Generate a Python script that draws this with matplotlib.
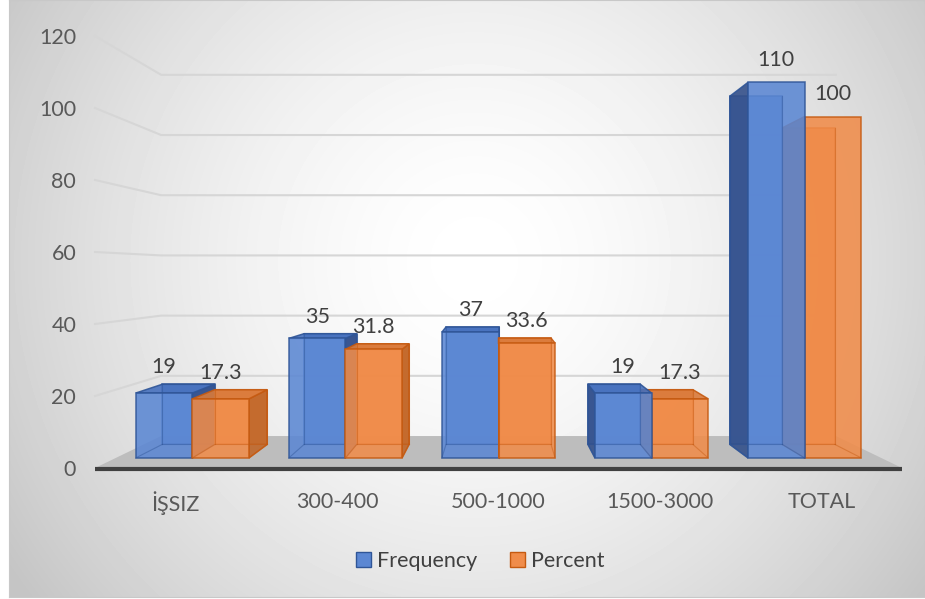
import numpy as np
import matplotlib.pyplot as plt
from matplotlib.patches import Polygon, Patch

categories = ['İŞSIZ', '300-400', '500-1000', '1500-3000', 'TOTAL']
frequency = [19, 35, 37, 19, 110]
percent = [17.3, 31.8, 33.6, 17.3, 100]

plt.rcParams['font.family'] = ['Lato', 'DejaVu Sans']
FS = 15.5

# simple perspective: vanishing point in front-plane data units
VX, VY = 2.0, 54.2
DEPTH = 0.196          # 1/scale grows by this much from front (w=0) to back wall (w=1)
BAR_W = 0.37
W0, W1 = 0.28, 0.70    # bar depth range

BLUE = dict(face='#5b87d3', side='#34508a', top='#4670bd', edge='#2f5597')
ORANGE = dict(face='#f08c4a', side='#c0672a', top='#d97a3a', edge='#c55a11')


def proj(x, y, w):
    s = 1.0 / (1.0 + DEPTH * w)
    return VX + (x - VX) * s, VY + (y - VY) * s


def face(ax, pts, fc, ec, alpha=0.9, z=3):
    xy = [proj(*p) for p in pts]
    ax.add_patch(Polygon(xy, closed=True, fc=fc, ec=ec, lw=1.1, alpha=alpha,
                         zorder=z, clip_on=False))


def box(ax, x0, x1, h, c):
    front = [(x0, 0, W0), (x1, 0, W0), (x1, h, W0), (x0, h, W0)]
    back = [(x0, 0, W1), (x1, 0, W1), (x1, h, W1), (x0, h, W1)]
    left = [(x0, 0, W0), (x0, 0, W1), (x0, h, W1), (x0, h, W0)]
    right = [(x1, 0, W0), (x1, 0, W1), (x1, h, W1), (x1, h, W0)]
    top = [(x0, h, W0), (x1, h, W0), (x1, h, W1), (x0, h, W1)]
    face(ax, back, c['face'], c['edge'])
    if x1 <= VX + 1e-9:
        face(ax, right, c['side'], c['edge'])
    elif x0 >= VX - 1e-9:
        face(ax, left, c['side'], c['edge'])
    if h < VY:
        face(ax, top, c['top'], c['edge'])
    face(ax, front, c['face'], c['edge'], alpha=0.88)
    # back edges showing through the translucent front
    for a, b in [((x0, 0, W1), (x1, 0, W1)), ((x0, 0, W1), (x0, h, W1)),
                 ((x1, 0, W1), (x1, h, W1)), ((x0, 0, W0), (x0, 0, W1)),
                 ((x1, 0, W0), (x1, 0, W1))]:
        pa, pb = proj(*a), proj(*b)
        ax.plot([pa[0], pb[0]], [pa[1], pb[1]], color=c['edge'], lw=0.8,
                alpha=0.45, zorder=3, clip_on=False)
    # anchor for the value label
    cx = proj((x0 + x1) / 2, h, W0)[0]
    ty = max(proj(x0, h, W0)[1], proj(x0, h, W1)[1])
    return cx, ty


fig = plt.figure(figsize=(9.25, 5.99), dpi=100)

# radial background
bg = fig.add_axes([9 / 925, 2 / 599, 916 / 925, 597 / 599])
yy, xx = np.mgrid[0:597, 0:916]
r = np.hypot(xx - 465, yy - 260) / 560
shade = 1 - 0.23 * np.clip(r, 0, 1) ** 1.6
bg.imshow(shade, cmap='gray', vmin=0, vmax=1, aspect='auto', interpolation='bilinear')
bg.set_xticks([])
bg.set_yticks([])
for sp in bg.spines.values():
    sp.set_color('#c8c8c8')

ax = fig.add_axes([95 / 925, 131 / 599, 807 / 925, 432 / 599])
ax.set_xlim(-0.5, 4.5)
ax.set_ylim(0, 120)
ax.patch.set_alpha(0)
for sp in ax.spines.values():
    sp.set_visible(False)

# gridlines on side and back walls
for v in range(20, 121, 20):
    pts = [proj(-0.5, v, 0), proj(-0.5, v, 1), proj(4.5, v, 1)]
    ax.plot([p[0] for p in pts], [p[1] for p in pts], color='#d6d6d6', lw=1.5,
            zorder=1, clip_on=False)

# floor
floor = [proj(-0.5, 0, 0), proj(4.5, 0, 0), proj(4.5, 0, 1), proj(-0.5, 0, 1)]
ax.add_patch(Polygon(floor, closed=True, fc='#bdbdbd', ec='none', zorder=2, clip_on=False))
ax.plot([-0.5, 4.5], [-0.4, -0.4], color='#404040', lw=3, zorder=2,
        solid_capstyle='butt', clip_on=False)

labels = []
for i in range(len(categories)):
    blue = (i - BAR_W, i, frequency[i], BLUE)
    orange = (i, i + BAR_W, percent[i], ORANGE)
    order = [blue, orange] if i <= VX else [orange, blue]
    for x0, x1, h, c in order:
        cx, ty = box(ax, x0, x1, h, c)
        labels.append((cx, ty, h))

for cx, ty, h in labels:
    off = 5 if h < VY else 9
    ax.annotate(f'{h:g}', xy=(cx, ty), xytext=(0, off), textcoords='offset points',
                ha='center', va='bottom', fontsize=FS, color='#404040', zorder=5)

ax.set_yticks(range(0, 121, 20))
ax.set_xticks(range(len(categories)), categories)
ax.tick_params(axis='y', length=0, pad=13.5, labelsize=FS, labelcolor='#595959')
ax.tick_params(axis='x', length=0, pad=17, labelsize=FS, labelcolor='#595959')

handles = [Patch(fc=BLUE['face'], ec=BLUE['edge'], label='Frequency'),
           Patch(fc=ORANGE['face'], ec=ORANGE['edge'], label='Percent')]
fig.legend(handles=handles, loc='center', bbox_to_anchor=(0.519, 0.063), ncol=2,
           frameon=False, fontsize=FS, handlelength=0.7, handleheight=0.7,
           handletextpad=0.3, columnspacing=1.5, labelcolor='#404040')

fig.savefig('out.png', dpi=100)
